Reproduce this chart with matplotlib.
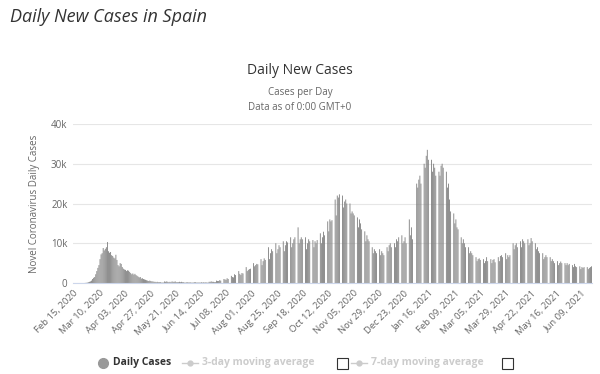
import numpy as np
import pandas as pd
import matplotlib
matplotlib.use('Agg')
import matplotlib.pyplot as plt
from matplotlib.lines import Line2D
from matplotlib.patches import Rectangle

# daily new cases in thousands, first day = Feb 15, 2020
feb_apr_2020 = [0, 0,
    0, 0, 0, 0, 0, 0, 0,
    0, 0, 0.02, 0.05, 0.1, 0.2, 0.3,
    0.4, 0.6, 1.0, 1.3, 1.5, 2.2, 3.0,
    3.8, 4.5, 6.0, 7.2, 7.5, 8.8, 8.2,
    8.6, 9.0, 10.3, 8.0, 7.6, 7.8, 7.0,
    6.8, 6.4, 6.2, 7.1, 5.8, 4.5, 4.2,
    5.0, 4.8, 4.0, 3.6, 3.4, 3.3, 3.0,
    3.2, 3.1, 2.8, 2.5, 2.2, 2.4, 2.1,
    2.3, 2.0, 1.8, 1.6, 1.4, 1.5, 1.1,
    1.2, 1.0, 0.9, 0.8, 0.7, 0.6, 0.5]
may_jul_2020 = [
    0.6, 0.5, 0.4, 0.4, 0.3, 0.3, 0.2,
    0.3, 0.2, 0.2, 0.2, 0.1, 0.1, 0.1,
    0.4, 0.3, 0.4, 0.3, 0.2, 0.3, 0.2,
    0.4, 0.3, 0.3, 0.4, 0.2, 0.2, 0.2,
    0.3, 0.2, 0.3, 0.2, 0.2, 0.1, 0.1,
    0.2, 0.2, 0.1, 0.2, 0.1, 0.1, 0.1,
    0.2, 0.2, 0.1, 0.1, 0.1, 0.1, 0.1,
    0.2, 0.1, 0.2, 0.1, 0.2, 0.1, 0.1,
    0.3, 0.3, 0.4, 0.3, 0.3, 0.2, 0.2,
    0.6, 0.5, 0.5, 0.7, 0.6, 0, 0]
jul_oct_2020 = [
    1.0, 0.9, 0.8, 1.2, 1.0, 0, 0,
    1.8, 1.5, 1.4, 2.2, 2.0, 0, 0,
    3.0, 2.3, 2.0, 2.5, 2.4, 0, 0,
    4.0, 3.0, 3.3, 3.5, 3.6, 0, 0,
    5.0, 4.2, 4.5, 4.8, 4.7, 0, 0,
    6.0, 4.5, 5.5, 6.2, 5.8, 0, 0,
    9.0, 6.0, 7.5, 8.5, 8.0, 0, 0,
    10.0, 7.5, 8.5, 9.5, 9.0, 0, 0,
    10.5, 8.0, 9.5, 10.5, 10.2, 0, 0,
    11.5, 9.0, 10.0, 11.0, 11.5, 0, 0,
    14.0, 10.0, 11.0, 11.5, 11.0, 0, 0,
    11.5, 8.5, 10.0, 11.0, 10.5, 0, 0,
    10.8, 9.0, 10.5, 10.0, 10.8, 0, 0,
    12.5, 10.0, 11.5, 12.9, 12.0, 0, 0]
oct_dec_2020 = [
    15.5, 13.0, 16.0, 15.5, 15.8, 0, 0,
    21.0, 17.0, 22.0, 21.5, 22.3, 0, 0,
    22.0, 19.0, 20.5, 21.0, 20.0, 0, 0,
    20.0, 17.5, 18.0, 17.5, 17.0, 0, 0,
    16.5, 14.0, 16.0, 15.0, 13.5, 0, 0,
    13.0, 10.5, 12.0, 11.0, 10.5, 0, 0,
    9.0, 7.5, 8.5, 8.0, 7.5, 0, 0,
    8.5, 7.0, 8.0, 7.5, 7.0, 0, 0,
    9.0, 8.0, 9.5, 10.0, 9.0, 0, 0,
    10.0, 9.0, 11.0, 10.5, 11.5, 0, 0,
    12.0, 10.0, 10.5, 11.5, 10.0, 0, 0,
    16.0, 12.0, 14.0, 11.0, 0, 0, 0]
jan_mar_2021 = [
    25.0, 24.0, 26.0, 27.0, 25.0, 0, 0,
    30.0, 29.0, 32.0, 33.5, 31.0, 0, 0,
    31.0, 28.0, 30.0, 29.0, 27.0, 0, 0,
    28.0, 27.0, 29.5, 30.0, 29.0, 0, 0,
    28.0, 24.0, 25.0, 21.0, 18.0, 0, 0,
    17.5, 15.0, 16.0, 14.0, 13.5, 0, 0,
    11.5, 10.0, 11.0, 10.0, 9.0, 0, 0,
    9.0, 7.5, 8.0, 7.5, 7.0, 0, 0,
    6.5, 5.5, 6.0, 6.2, 5.8, 0, 0,
    6.0, 5.0, 5.5, 6.5, 5.5, 0, 0,
    6.0, 5.0, 5.8, 6.0, 5.2, 0, 0,
    6.5, 5.5, 6.8, 7.0, 6.5, 0, 0,
    7.5, 6.0, 7.0, 6.5, 7.0, 0, 0]
apr_jun_2021 = [
    10.0, 8.5, 9.5, 10.0, 9.0, 0, 0,
    10.5, 9.0, 11.0, 10.5, 10.0, 0, 0,
    11.0, 9.5, 10.0, 11.3, 10.5, 0, 0,
    10.0, 8.5, 9.0, 8.0, 7.5, 0, 0,
    7.5, 6.0, 6.5, 7.0, 6.5, 0, 0,
    6.5, 5.5, 6.0, 5.5, 5.0, 0, 0,
    5.5, 4.5, 5.0, 5.4, 5.0, 0, 0,
    5.0, 4.5, 5.0, 4.5, 4.8, 0, 0,
    4.5, 4.0, 4.8, 4.2, 4.0, 0, 0,
    4.2, 3.5, 4.0, 3.8, 4.0, 0, 0,
    4.0, 3.5, 3.8, 4.0, 4.2]

yticks = [0, 10000, 20000, 30000, 40000]
ytick_labels = ['0', '10k', '20k', '30k', '40k']

cases = np.array(feb_apr_2020 + may_jul_2020 + jul_oct_2020 +
                 oct_dec_2020 + jan_mar_2021 + apr_jun_2021) * 1000
dates = pd.date_range('2020-02-15', periods=len(cases), freq='D')
x = np.arange(len(cases))

plt.rcParams['font.family'] = ['Open Sans', 'DejaVu Sans']

fig = plt.figure(figsize=(6, 3.74), dpi=100)
ax = fig.add_axes([73/600, 1-283/374, 519/600, 159/374])

bars = ax.bar(x, cases, width=0.8, color='#7d7d7d', linewidth=0)
for b in bars:
    b.set_snap(False)
ax.set_xlim(-0.5, len(cases)-0.5)
ax.set_ylim(0, 40000)

ax.set_yticks(yticks)
ax.set_yticklabels(ytick_labels, color='#666666', fontsize=7)
ax.yaxis.grid(True, color='#e6e6e6', linewidth=0.8)
ax.set_axisbelow(True)

tick_idx = x[::24]
ax.set_xticks(tick_idx)
ax.set_xticklabels([dates[i].strftime('%b %d, %Y') for i in tick_idx],
                   rotation=45, ha='right', rotation_mode='anchor',
                   color='#666666', fontsize=6.8)
ax.tick_params(axis='both', length=0, pad=4)

for s in ['top', 'right', 'left']:
    ax.spines[s].set_visible(False)
ax.spines['bottom'].set_color('#ccd6eb')

ax.set_ylabel('Novel Coronavirus Daily Cases', color='#666666', fontsize=7, labelpad=8)

fig.text(10/600, 1-17/374, 'Daily New Cases in Spain', fontsize=13, style='italic',
         color='#333333', va='center', ha='left')
fig.text(0.5, 1-70/374, 'Daily New Cases', fontsize=10, color='#333333',
         va='center', ha='center')
fig.text(0.5, 1-93/374, 'Cases per Day', fontsize=7, color='#666666',
         va='center', ha='center')
fig.text(0.5, 1-107/374, 'Data as of 0:00 GMT+0', fontsize=7, color='#666666',
         va='center', ha='center')

# legend
ly = 1-363/374
fig.add_artist(Line2D([103/600], [ly], marker='o', markersize=7, color='#999999',
                      transform=fig.transFigure))
fig.text(113/600, ly, 'Daily Cases', fontsize=7.5, fontweight='bold', color='#333333',
         va='center', ha='left')
for x0, label, bx in [(182, '3-day moving average', 337), (351, '7-day moving average', 502)]:
    fig.add_artist(Line2D([x0/600, (x0+16)/600], [ly, ly], color='#cccccc', linewidth=1,
                          transform=fig.transFigure))
    fig.add_artist(Line2D([(x0+8)/600], [ly], marker='o', markersize=3.5, color='#cccccc',
                          transform=fig.transFigure))
    fig.text((x0+20)/600, ly, label, fontsize=7.5, fontweight='bold', color='#cccccc',
             va='center', ha='left')
    fig.add_artist(Rectangle((bx/600, 1-369/374), 11/600, 11/374, fill=False,
                             edgecolor='#333333', linewidth=0.8, transform=fig.transFigure))

plt.savefig('out.png', dpi=100)
